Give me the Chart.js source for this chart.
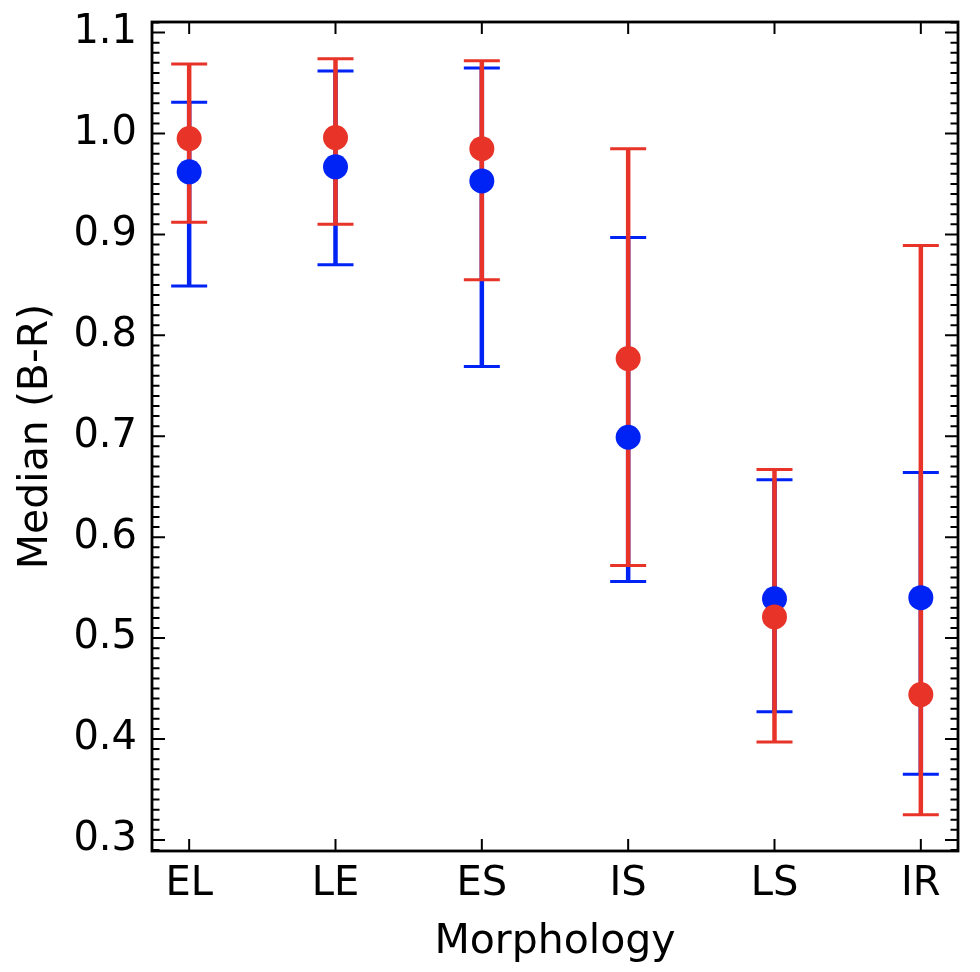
<!DOCTYPE html>
<html>
<head>
<meta charset="utf-8">
<script src="https://cdn.jsdelivr.net/npm/chart.js@4.4.0/dist/chart.umd.min.js"></script>
<style>
    html, body { margin: 0; padding: 0; background: #ffffff; }
    #wrap { width: 980px; height: 972px; }
</style>
</head>
<body>
<div id="wrap"><canvas id="chart"></canvas></div>
<script>
// Valores
const categories = ['EL', 'LE', 'ES', 'IS', 'LS', 'IR'];

const blueMedian = [0.962, 0.967, 0.953, 0.699, 0.539, 0.540];
const blueUpper  = [1.031, 1.062, 1.065, 0.897, 0.657, 0.664];
const blueLower  = [0.849, 0.870, 0.769, 0.556, 0.427, 0.365];

const redMedian  = [0.995, 0.996, 0.985, 0.777, 0.521, 0.444];
const redUpper   = [1.069, 1.074, 1.072, 0.985, 0.667, 0.889];
const redLower   = [0.912, 0.910, 0.855, 0.572, 0.397, 0.325];

const yTicks = [0.3, 0.4, 0.5, 0.6, 0.7, 0.8, 0.9, 1.0, 1.1];

const BLUE = 'rgb(0, 35, 245)';
const RED = 'rgb(232, 52, 40)';
const FONT = "'DejaVu Sans', sans-serif";

function toPoints(values) {
    return values.map((v, i) => ({ x: i, y: v }));
}

/**
 * Barras de error: azul primero, luego roja, antes de los puntos
 */
const errorBarPlugin = {
    id: 'errorBars',
    beforeDatasetsDraw(chart) {
        const ctx = chart.ctx;
        const xs = chart.scales.x;
        const ys = chart.scales.y;
        const groups = [
            { color: BLUE, lo: blueLower, hi: blueUpper },
            { color: RED, lo: redLower, hi: redUpper }
        ];
        ctx.save();
        groups.forEach(g => {
            ctx.strokeStyle = g.color;
            g.lo.forEach((lo, i) => {
                const x = xs.getPixelForValue(i);
                const yLo = ys.getPixelForValue(lo);
                const yHi = ys.getPixelForValue(g.hi[i]);
                ctx.lineWidth = 4.5;
                ctx.beginPath();
                ctx.moveTo(x, yLo);
                ctx.lineTo(x, yHi);
                ctx.stroke();
                ctx.lineWidth = 3;
                ctx.beginPath();
                ctx.moveTo(x - 18, yLo);
                ctx.lineTo(x + 18, yLo);
                ctx.moveTo(x - 18, yHi);
                ctx.lineTo(x + 18, yHi);
                ctx.stroke();
            });
        });
        ctx.restore();
    }
};

/**
 * Marco y marcas hacia dentro (estilo matplotlib)
 */
const framePlugin = {
    id: 'frame',
    afterDraw(chart) {
        const ctx = chart.ctx;
        const { left, right, top, bottom } = chart.chartArea;
        const xs = chart.scales.x;
        const ys = chart.scales.y;
        ctx.save();
        ctx.strokeStyle = '#000';
        ctx.lineWidth = 2;
        ctx.beginPath();
        // marcas mayores en x (abajo y arriba)
        categories.forEach((c, i) => {
            const x = xs.getPixelForValue(i);
            ctx.moveTo(x, bottom);
            ctx.lineTo(x, bottom - 12);
            ctx.moveTo(x, top);
            ctx.lineTo(x, top + 12);
        });
        // marcas mayores en y
        yTicks.forEach(v => {
            const y = ys.getPixelForValue(v);
            ctx.moveTo(left, y);
            ctx.lineTo(left + 13, y);
            ctx.moveTo(right, y);
            ctx.lineTo(right - 13, y);
        });
        // marcas menores en y cada 0.01
        for (let k = Math.ceil(ys.min * 100); k <= Math.floor(ys.max * 100); k++) {
            if (k % 10 === 0) continue;
            const y = ys.getPixelForValue(k / 100);
            ctx.moveTo(left, y);
            ctx.lineTo(left + 7.5, y);
            ctx.moveTo(right, y);
            ctx.lineTo(right - 7.5, y);
        }
        ctx.stroke();
        ctx.lineWidth = 2.8;
        ctx.strokeRect(left, top, right - left, bottom - top);
        ctx.restore();
    }
};

document.addEventListener('DOMContentLoaded', function() {
    const ctx = document.getElementById('chart').getContext('2d');
    new Chart(ctx, {
        type: 'scatter',
        data: {
            datasets: [{
                label: 'blue',
                data: toPoints(blueMedian),
                backgroundColor: BLUE,
                borderWidth: 0,
                pointRadius: 12.5,
                pointHoverRadius: 12.5,
                order: 2
            }, {
                label: 'red',
                data: toPoints(redMedian),
                backgroundColor: RED,
                borderWidth: 0,
                pointRadius: 12.5,
                pointHoverRadius: 12.5,
                order: 1
            }]
        },
        options: {
            responsive: true,
            maintainAspectRatio: false,
            animation: false,
            layout: { padding: { top: 22, right: 22, bottom: 0, left: 0 } },
            plugins: {
                legend: { display: false },
                tooltip: { enabled: false }
            },
            scales: {
                x: {
                    type: 'linear',
                    min: -0.254,
                    max: 5.254,
                    grid: { display: false, drawTicks: false, tickLength: 0 },
                    border: { display: false },
                    afterBuildTicks: scale => {
                        scale.ticks = categories.map((c, i) => ({ value: i }));
                    },
                    afterFit: scale => {
                        scale.height = 121;
                        scale.paddingLeft = 0;
                        scale.paddingRight = 0;
                    },
                    ticks: {
                        padding: 10,
                        color: '#000',
                        font: { family: FONT, size: 40 },
                        maxRotation: 0,
                        autoSkip: false,
                        callback: v => categories[v]
                    },
                    title: {
                        display: true,
                        text: 'Morphology',
                        color: '#000',
                        font: { family: FONT, size: 41, lineHeight: 1.2 },
                        padding: { top: 0, bottom: 5 }
                    }
                },
                y: {
                    min: 0.289,
                    max: 1.1105,
                    grid: { display: false, drawTicks: false, tickLength: 0 },
                    border: { display: false },
                    afterBuildTicks: scale => {
                        scale.ticks = yTicks.map(v => ({ value: v }));
                    },
                    afterFit: scale => {
                        scale.width = 152;
                        scale.paddingTop = 0;
                        scale.paddingBottom = 0;
                    },
                    ticks: {
                        padding: 15,
                        color: '#000',
                        font: { family: FONT, size: 40 },
                        callback: v => v.toFixed(1)
                    },
                    title: {
                        display: true,
                        text: 'Median (B-R)',
                        color: '#000',
                        font: { family: FONT, size: 41, lineHeight: 1.2 },
                        padding: { top: 12, bottom: 0 }
                    }
                }
            }
        },
        plugins: [errorBarPlugin, framePlugin]
    });
});
</script>
</body>
</html>
